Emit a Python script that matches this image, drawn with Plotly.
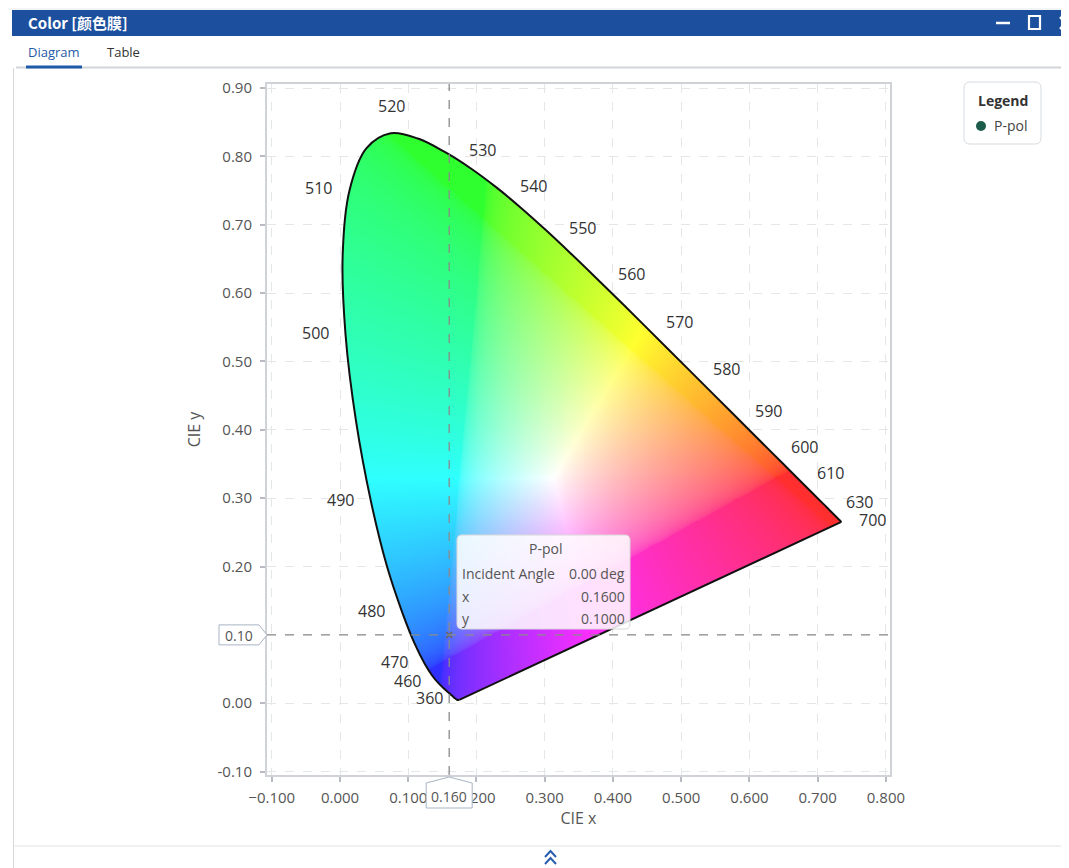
import base64
import struct
import zlib

import numpy as np
import plotly.graph_objects as go

# ---------------- data ----------------
wavelengths = list(range(360, 705, 5))
cie_x = [0.17556, 0.17516, 0.17482, 0.17451, 0.17411, 0.17401, 0.17380, 0.17356,
         0.17334, 0.17302, 0.17258, 0.17209, 0.17141, 0.17030, 0.16888, 0.16690,
         0.16441, 0.16110, 0.15664, 0.15099, 0.14396, 0.13550, 0.12412, 0.10959,
         0.09129, 0.06871, 0.04539, 0.02346, 0.00817, 0.00386, 0.01387, 0.03885,
         0.07430, 0.11416, 0.15472, 0.19288, 0.22962, 0.26578, 0.30160, 0.33736,
         0.37310, 0.40874, 0.44406, 0.47877, 0.51249, 0.54479, 0.57515, 0.60293,
         0.62704, 0.64823, 0.66576, 0.68008, 0.69150, 0.70061, 0.70792, 0.71403,
         0.71903, 0.72303, 0.72599, 0.72827, 0.72997, 0.73109, 0.73199, 0.73272,
         0.73342, 0.73405, 0.73439, 0.73459, 0.73469]
cie_y = [0.00529, 0.00526, 0.00522, 0.00518, 0.00496, 0.00498, 0.00492, 0.00492,
         0.00480, 0.00478, 0.00480, 0.00483, 0.00510, 0.00579, 0.00690, 0.00856,
         0.01086, 0.01379, 0.01771, 0.02274, 0.02970, 0.03988, 0.05780, 0.08684,
         0.13270, 0.20072, 0.29498, 0.41270, 0.53842, 0.65482, 0.75019, 0.81202,
         0.83380, 0.82621, 0.80586, 0.78163, 0.75433, 0.72432, 0.69231, 0.65885,
         0.62445, 0.58961, 0.55471, 0.52020, 0.48659, 0.45443, 0.42423, 0.39650,
         0.37249, 0.35139, 0.33401, 0.31975, 0.30834, 0.29930, 0.29203, 0.28593,
         0.28093, 0.27695, 0.27401, 0.27173, 0.27003, 0.26891, 0.26801, 0.26728,
         0.26658, 0.26595, 0.26561, 0.26541, 0.26531]
label_left = [360, 460, 470, 480, 490, 500, 510]
label_top = [520]
label_right = [530, 540, 550, 560, 570, 580, 590, 600, 610, 630, 700]

series_name = "P-pol"
point_x = [0.16]
point_y = [0.10]
incident_angle = [0.00]

x_ticks = [-0.1, 0.0, 0.1, 0.2, 0.3, 0.4, 0.5, 0.6, 0.7, 0.8]
y_ticks = [-0.1, 0.0, 0.1, 0.2, 0.3, 0.4, 0.5, 0.6, 0.7, 0.8, 0.9]
x_range = [-0.107, 0.806]
y_range = [-0.105, 0.906]

# ---------------- geometry helpers (page pixels -> paper) ----------------
OFF = 8                      # default body margin of the html page
W, H = 1069 - OFF, 868 - OFF  # figure size
PL, PR, PT, PB = 267, 890, 84, 775   # plot area in page pixels


def px(v):
    return (v - PL) / (PR - PL)


def py(v):
    return (PB - v) / (PB - PT)


def rrect(x0, y0, x1, y1, r):
    rx, ry = r / (PR - PL), r / (PB - PT)
    a, b, c, d = px(x0), px(x1), py(y0), py(y1)
    return (f"M{a+rx},{c} L{b-rx},{c} Q{b},{c} {b},{c-ry} L{b},{d+ry} Q{b},{d} {b-rx},{d} "
            f"L{a+rx},{d} Q{a},{d} {a},{d+ry} L{a},{c-ry} Q{a},{c} {a+rx},{c} Z")


# ---------------- chromaticity colour image (rendering only) ----------------
def smooth_outline(xs, ys, k=10):
    p = np.column_stack([xs, ys])
    n = len(p)
    out = []
    for i in range(n - 1):
        p0 = p[max(i - 1, 0)]
        p1, p2 = p[i], p[i + 1]
        p3 = p[min(i + 2, n - 1)]
        for t in np.linspace(0, 1, k, endpoint=False):
            t2, t3 = t * t, t * t * t
            out.append(0.5 * ((2 * p1) + (-p0 + p2) * t + (2 * p0 - 5 * p1 + 4 * p2 - p3) * t2
                              + (-p0 + 3 * p1 - 3 * p2 + p3) * t3))
    out.append(p[-1])
    out = np.array(out)
    return out[:, 0], out[:, 1]


step = 0.0014
gx = np.arange(0.0, 0.745, step) + step / 2
gy = np.arange(0.0, 0.845, step) + step / 2
XX, YY = np.meshgrid(gx, gy)
poly_x, poly_y = smooth_outline(cie_x, cie_y)
inside = np.zeros(XX.shape, dtype=bool)
n = len(poly_x)
for j in range(n):
    x1, y1 = poly_x[j], poly_y[j]
    x2, y2 = poly_x[j - 1], poly_y[j - 1]
    if y1 == y2:
        continue
    cond = ((y1 > YY) != (y2 > YY)) & (XX < (x2 - x1) * (YY - y1) / (y2 - y1) + x1)
    inside ^= cond

Xc = XX / YY
Yc = np.ones_like(XX)
Zc = (1 - XX - YY) / YY
# XYZ -> wide-gamut (Adobe-like) RGB, clipped and normalised, shown softened
M = np.array([[2.0414, -0.5649, -0.3447],
              [-0.9693, 1.8760, 0.0416],
              [0.0134, -0.1184, 1.0154]])
rgb = np.stack([M[i, 0] * Xc + M[i, 1] * Yc + M[i, 2] * Zc for i in range(3)], axis=-1)
rgb = np.clip(rgb, 0, None)
rgb = rgb / np.maximum(rgb.max(axis=-1, keepdims=True), 1e-9)
rgb = np.power(rgb, 1 / 2.2)
rgb = (1 - (1 - rgb) * 0.84) * 0.97 + 0.03
rgba = np.zeros(XX.shape + (4,), dtype=np.uint8)
rgba[..., :3] = np.clip(rgb * 255, 0, 255).astype(np.uint8)
rgba[..., 3] = np.where(inside, 255, 0).astype(np.uint8)


def to_png(arr):
    h, w, _ = arr.shape
    raw = b"".join(b"\x00" + arr[i].tobytes() for i in range(h))

    def chunk(tp, d):
        c = struct.pack(">I", len(d)) + tp + d
        return c + struct.pack(">I", zlib.crc32(tp + d) & 0xffffffff)

    return (b"\x89PNG\r\n\x1a\n" + chunk(b"IHDR", struct.pack(">IIBBBBB", w, h, 8, 6, 0, 0, 0))
            + chunk(b"IDAT", zlib.compress(raw, 9)) + chunk(b"IEND", b""))


png_src = "data:image/png;base64," + base64.b64encode(to_png(rgba)).decode()

# ---------------- figure ----------------
fig = go.Figure()
fig.add_trace(go.Image(source=png_src, x0=gx[0], dx=step, y0=gy[0], dy=step,
                       hoverinfo="skip"))
fig.add_trace(go.Scatter(x=cie_x, y=cie_y, mode="lines",
                         line=dict(color="#111111", width=2, shape="spline", smoothing=1),
                         hoverinfo="skip", showlegend=False))
fig.add_trace(go.Scatter(x=[cie_x[-1], cie_x[0]], y=[cie_y[-1], cie_y[0]], mode="lines",
                         line=dict(color="#111111", width=2), hoverinfo="skip", showlegend=False))
fig.add_trace(go.Scatter(x=point_x, y=point_y, mode="markers", name=series_name,
                         marker=dict(symbol="x-thin", size=6, line=dict(color="#666666", width=1.5)),
                         showlegend=False))

label_font = dict(family="Open Sans, Segoe UI, sans-serif", size=16, color="#333333")
for nm in label_left + label_top + label_right:
    i = wavelengths.index(nm)
    if nm in label_left:
        xs, ys, xa = -15, 2, "right"
    elif nm in label_top:
        xs, ys, xa = 1, 27, "center"
    elif nm == label_right[-1]:
        xs, ys, xa = 16, 2, "left"
    else:
        xs, ys, xa = 21, 2, "left"
    fig.add_annotation(x=cie_x[i], y=cie_y[i], text=str(nm), showarrow=False,
                       xanchor=xa, yanchor="middle", xshift=xs, yshift=ys, font=label_font)

shapes = []
# crosshair
shapes.append(dict(type="line", xref="x", yref="paper", x0=point_x[0], x1=point_x[0], y0=0, y1=1,
                   line=dict(color="#8a8a8a", width=1.3, dash="dash"), layer="above"))
shapes.append(dict(type="line", xref="paper", yref="y", x0=0, x1=1, y0=point_y[0], y1=point_y[0],
                   line=dict(color="#8a8a8a", width=1.3, dash="dash"), layer="above"))

# tooltip box
shapes.append(dict(type="path", xref="paper", yref="paper", path=rrect(457, 535, 630, 629, 5),
                   fillcolor="rgba(255,255,255,0.86)", line=dict(color="#d8d8d8", width=1),
                   layer="above"))
tip_font = dict(family="Open Sans, Segoe UI, sans-serif", size=14, color="#555555")
fig.add_annotation(xref="paper", yref="paper", x=px(545), y=py(548), text=series_name,
                   showarrow=False, font=tip_font, xanchor="center", yanchor="middle")
rows = [("Incident Angle", f"{incident_angle[0]:.2f} deg", 573),
        ("x", f"{point_x[0]:.4f}", 596),
        ("y", f"{point_y[0]:.4f}", 618)]
for lab, val, yy in rows:
    fig.add_annotation(xref="paper", yref="paper", x=px(460), y=py(yy), text=lab, showarrow=False,
                       font=tip_font, xanchor="left", yanchor="middle")
    fig.add_annotation(xref="paper", yref="paper", x=px(627), y=py(yy), text=val, showarrow=False,
                       font=tip_font, xanchor="right", yanchor="middle")

# axis value badges
bxp = PL + (point_x[0] - x_range[0]) / (x_range[1] - x_range[0]) * (PR - PL)
byp = PB - (point_y[0] - y_range[0]) / (y_range[1] - y_range[0]) * (PB - PT)
shapes.append(dict(type="path", xref="paper", yref="paper",
                   path=(f"M{px(219)},{py(byp-10)} L{px(259)},{py(byp-10)} L{px(267)},{py(byp)} "
                         f"L{px(259)},{py(byp+10)} L{px(219)},{py(byp+10)} Z"),
                   fillcolor="white", line=dict(color="#a8b4c4", width=1), layer="above"))
fig.add_annotation(xref="paper", yref="paper", x=px(239), y=py(byp + 1), text=f"{point_y[0]:.2f}",
                   showarrow=False, font=dict(family="Open Sans, sans-serif", size=14, color="#555"),
                   xanchor="center", yanchor="middle")
shapes.append(dict(type="path", xref="paper", yref="paper",
                   path=(f"M{px(bxp)},{py(777)} L{px(bxp+23)},{py(783)} L{px(bxp+23)},{py(808)} "
                         f"L{px(bxp-23)},{py(808)} L{px(bxp-23)},{py(783)} Z"),
                   fillcolor="white", line=dict(color="#a8b4c4", width=1), layer="above"))
fig.add_annotation(xref="paper", yref="paper", x=px(bxp), y=py(796), text=f"{point_x[0]:.3f}",
                   showarrow=False, font=dict(family="Open Sans, sans-serif", size=14, color="#555"),
                   xanchor="center", yanchor="middle")

# legend box (manual)
shapes.append(dict(type="path", xref="paper", yref="paper", path=rrect(964, 82, 1041, 144, 6),
                   fillcolor="white", line=dict(color="#d6dbe0", width=1), layer="above"))
fig.add_annotation(xref="paper", yref="paper", x=px(1003), y=py(100), text="<b>Legend</b>",
                   showarrow=False, font=dict(family="Open Sans, sans-serif", size=14, color="#333"),
                   xanchor="center", yanchor="middle")
shapes.append(dict(type="circle", xref="paper", yref="paper", x0=px(976), x1=px(986),
                   y0=py(121), y1=py(131), fillcolor="#1d5c4b", line=dict(width=0), layer="above"))
fig.add_annotation(xref="paper", yref="paper", x=px(992), y=py(126), text=series_name,
                   showarrow=False, font=dict(family="Open Sans, sans-serif", size=14, color="#444"),
                   xanchor="left", yanchor="middle")

# window chrome
shapes.append(dict(type="rect", xref="paper", yref="paper", x0=px(0), x1=px(1069), y0=py(0), y1=py(10),
                   fillcolor="#f3f4f6", line=dict(width=0), layer="above"))
shapes.append(dict(type="rect", xref="paper", yref="paper", x0=px(12), x1=px(1069), y0=py(10), y1=py(36),
                   fillcolor="#1c4f9e", line=dict(width=0), layer="above"))
fig.add_annotation(xref="paper", yref="paper", x=px(26), y=py(23), text="<b>Color [颜色膜]</b>",
                   showarrow=False, font=dict(family="Noto Sans CJK SC, sans-serif", size=15, color="white"),
                   xanchor="left", yanchor="middle")
shapes.append(dict(type="line", xref="paper", yref="paper", x0=px(996), x1=px(1010), y0=py(23), y1=py(23),
                   line=dict(color="white", width=2.5), layer="above"))
shapes.append(dict(type="rect", xref="paper", yref="paper", x0=px(1029), x1=px(1040), y0=py(16), y1=py(29),
                   line=dict(color="white", width=2.2), layer="above"))
shapes.append(dict(type="path", xref="paper", yref="paper",
                   path=f"M{px(1060)},{py(17)} L{px(1070)},{py(29)} M{px(1060)},{py(29)} L{px(1070)},{py(17)}",
                   line=dict(color="white", width=2.2), layer="above"))
# tabs
fig.add_annotation(xref="paper", yref="paper", x=px(26), y=py(52), text="Diagram", showarrow=False,
                   font=dict(family="Open Sans, sans-serif", size=13, color="#1f5aa8"),
                   xanchor="left", yanchor="middle")
fig.add_annotation(xref="paper", yref="paper", x=px(105), y=py(52), text="Table", showarrow=False,
                   font=dict(family="Open Sans, sans-serif", size=13, color="#333"),
                   xanchor="left", yanchor="middle")
shapes.append(dict(type="line", xref="paper", yref="paper", x0=px(16), x1=px(1061), y0=py(67.5), y1=py(67.5),
                   line=dict(color="#d2d4d8", width=2), layer="above"))
shapes.append(dict(type="line", xref="paper", yref="paper", x0=px(26), x1=px(82), y0=py(67), y1=py(67),
                   line=dict(color="#1f5aa8", width=3), layer="above"))
# panel borders
shapes.append(dict(type="line", xref="paper", yref="paper", x0=px(13.5), x1=px(13.5), y0=py(68), y1=py(868),
                   line=dict(color="#d8d8d8", width=1), layer="above"))
shapes.append(dict(type="line", xref="paper", yref="paper", x0=px(1061.5), x1=px(1061.5), y0=py(36), y1=py(868),
                   line=dict(color="#e0e0e0", width=1), layer="above"))
shapes.append(dict(type="rect", xref="paper", yref="paper", x0=px(1062), x1=px(1069), y0=py(36), y1=py(868),
                   fillcolor="#f7f7f8", line=dict(width=0), layer="above"))
shapes.append(dict(type="path", xref="paper", yref="paper",
                   path=f"M{px(1064)},{py(463)} L{px(1069)},{py(459)} L{px(1069)},{py(467)} Z",
                   fillcolor="#3a63b0", line=dict(width=0), layer="above"))
shapes.append(dict(type="line", xref="paper", yref="paper", x0=px(14), x1=px(1061), y0=py(846), y1=py(846),
                   line=dict(color="#e2e2e2", width=1), layer="above"))
shapes.append(dict(type="path", xref="paper", yref="paper",
                   path=(f"M{px(545)},{py(857)} L{px(550.5)},{py(851)} L{px(556)},{py(857)} "
                         f"M{px(545)},{py(864)} L{px(550.5)},{py(858)} L{px(556)},{py(864)}"),
                   line=dict(color="#2a5db0", width=2), layer="above"))

fig.update_layout(shapes=shapes)

axis_common = dict(showline=True, linecolor="#cfd3d8", linewidth=2, mirror=True,
                   ticks="outside", ticklen=5, tickcolor="#b8bcc2", tickwidth=1.5,
                   showgrid=True, gridcolor="#e4e6e8", gridwidth=1, griddash="dash",
                   zeroline=False,
                   tickfont=dict(family="Open Sans, Segoe UI, sans-serif", size=15, color="#555555"))
y_ticktext = ["" if abs(v - point_y[0]) < 1e-9 else f"{v:.2f}" for v in y_ticks]
fig.update_xaxes(range=x_range, tickvals=x_ticks, tickformat=".3f", ticklabelstandoff=3,
                 title=dict(text="CIE x", standoff=4,
                            font=dict(family="Open Sans, sans-serif", size=16, color="#555555")),
                 **axis_common)
fig.update_yaxes(range=y_range, tickvals=y_ticks, ticktext=y_ticktext, scaleanchor=False,
                 ticklabelstandoff=5,
                 title=dict(text="CIE y", standoff=13,
                            font=dict(family="Open Sans, sans-serif", size=16, color="#555555")),
                 **axis_common)

fig.update_layout(width=W, height=H, autosize=False,
                  margin=dict(l=PL - OFF, r=W - (PR - OFF), t=PT - OFF, b=H - (PB - OFF)),
                  paper_bgcolor="white", plot_bgcolor="white", showlegend=False,
                  font=dict(family="Open Sans, sans-serif"))

fig.write_html("out.html")
